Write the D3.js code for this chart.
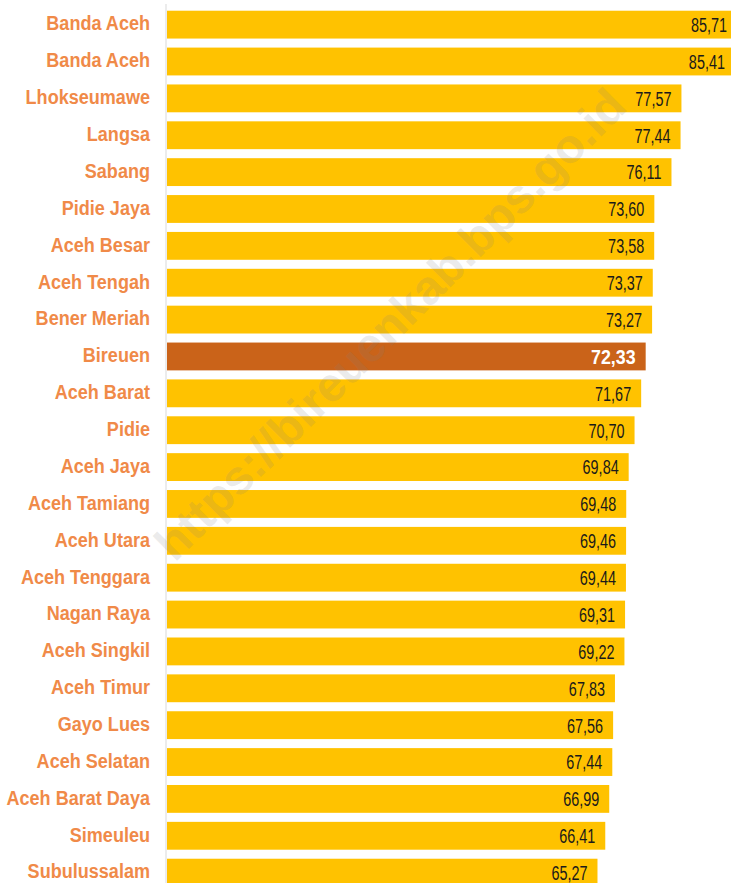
<!DOCTYPE html>
<html>
<head>
<meta charset="utf-8">
<script src="https://cdn.jsdelivr.net/npm/d3@7"></script>
<style>
  html, body { margin: 0; padding: 0; background: #ffffff; }
  svg { display: block; }
</style>
</head>
<body>
<svg id="chart" width="731" height="883"></svg>
<script>
const categories = ["Banda Aceh","Banda Aceh","Lhokseumawe","Langsa","Sabang","Pidie Jaya","Aceh Besar","Aceh Tengah","Bener Meriah","Bireuen","Aceh Barat","Pidie","Aceh Jaya","Aceh Tamiang","Aceh Utara","Aceh Tenggara","Nagan Raya","Aceh Singkil","Aceh Timur","Gayo Lues","Aceh Selatan","Aceh Barat Daya","Simeuleu","Subulussalam"];
const values = [85.71,85.41,77.57,77.44,76.11,73.60,73.58,73.37,73.27,72.33,71.67,70.70,69.84,69.48,69.46,69.44,69.31,69.22,67.83,67.56,67.44,66.99,66.41,65.27];
const highlight = "Bireuen";
const watermark = "https://bireuenkab.bps.go.id";

const W = 731, H = 883;
const svg = d3.select("#chart");

const x = d3.scaleLinear().domain([2.2, 85.71]).range([167, 737]);
const y = d3.scaleBand().domain(d3.range(categories.length))
  .range([6.2, 6.2 + 36.87 * categories.length])
  .paddingInner(0.245).paddingOuter(0.1225);

const fmt = v => d3.format(".2f")(v).replace(".", ",");

// bars
svg.append("g").selectAll("rect").data(values).join("rect")
  .attr("x", x(2.2))
  .attr("y", (d, i) => y(i))
  .attr("width", d => x(d) - x(2.2))
  .attr("height", y.bandwidth())
  .attr("fill", (d, i) => categories[i] === highlight ? "#CA6319" : "#FFC200");

// axis line
svg.append("line")
  .attr("x1", 166).attr("x2", 166)
  .attr("y1", 4).attr("y2", H)
  .attr("stroke", "#D9D9D9").attr("stroke-width", 1);

// category labels
svg.append("g").selectAll("text").data(categories).join("text")
  .attr("transform", (d, i) => `translate(150,${y(i) + y.bandwidth() / 2 - 1.5}) scale(0.86,1)`)
  .attr("text-anchor", "end")
  .attr("dy", "0.35em")
  .attr("font-family", "Liberation Sans, Arial, sans-serif")
  .attr("font-weight", "bold")
  .attr("font-size", 21)
  .attr("fill", "#F08A48")
  .text(d => d);

// value labels
svg.append("g").selectAll("text").data(values).join("text")
  .attr("transform", (d, i) => `translate(${x(d) - 10},${y(i) + y.bandwidth() / 2 + 0.5}) scale(${categories[i] === highlight ? 0.85 : 0.74},1)`)
  .attr("text-anchor", "end")
  .attr("dy", "0.35em")
  .attr("font-family", "Liberation Sans, Arial, sans-serif")
  .attr("font-weight", (d, i) => categories[i] === highlight ? "bold" : "normal")
  .attr("font-size", (d, i) => categories[i] === highlight ? 21 : 19.5)
  .attr("fill", (d, i) => categories[i] === highlight ? "#FFFFFF" : "#1A1A1A")
  .text(d => fmt(d));

// watermark
svg.append("text")
  .attr("transform", "translate(390,324) rotate(-45)")
  .attr("text-anchor", "middle")
  .attr("dy", "0.35em")
  .attr("font-family", "Liberation Sans, Arial, sans-serif")
  .attr("font-weight", "bold")
  .attr("font-size", 48)
  .attr("fill", "#808080")
  .attr("fill-opacity", 0.17)
  .text(watermark);
</script>
</body>
</html>
